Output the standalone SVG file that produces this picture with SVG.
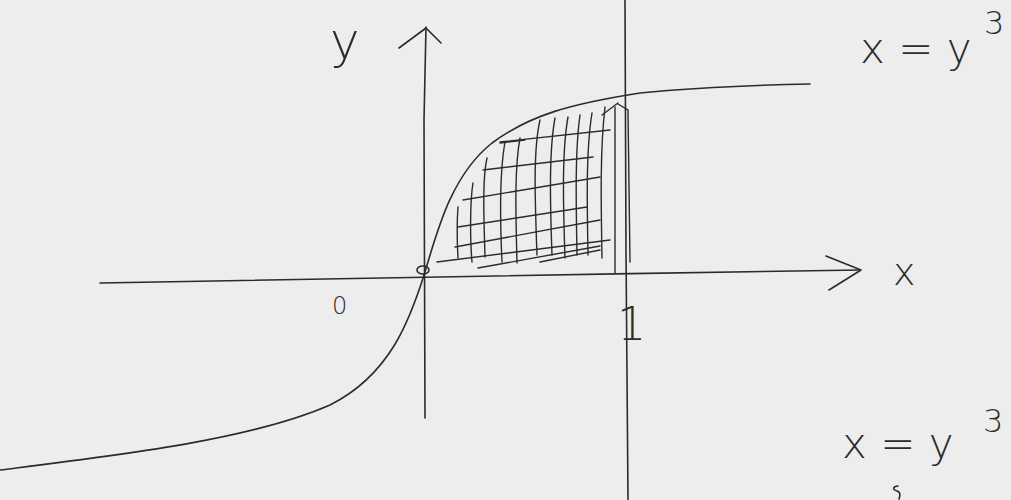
<svg xmlns="http://www.w3.org/2000/svg" width="1011" height="500" viewBox="0 0 1011 500">
<style>
.ln{fill:none;stroke:#2b2b2b;stroke-width:1.6;stroke-linecap:round;stroke-linejoin:round}
.h{fill:none;stroke:#2b2b2b;stroke-width:1.4;stroke-linecap:round}
.t{font-family:"DejaVu Sans",sans-serif;fill:#2b2b2b;font-weight:300}
</style>
<rect width="1011" height="500" fill="#ededed"/>
<g id="axes" class="ln">
<path d="M100,283 C300,279 600,274 860,270"/>
<path d="M826,256 L861,270 L829,290"/>
<path d="M425,418 L424,120 L426,27"/>
<path d="M399,48 L426,28 L441,43"/>
<path d="M625,0 L626,250 L628,500"/>
</g>
<g id="curve" class="ln">
<path d="M0,470 C120,455 250,440 330,405 C390,375 410,320 425,272 C438,228 452,175 492,143 C530,115 570,104 640,93 C700,87 760,85 810,84"/>
<ellipse cx="423" cy="270" rx="6" ry="4"/>
</g>
<g id="hatching" class="h">
<path d="M458,258 C457,240 457,220 458,207"/>
<path d="M472,262 C470,240 470,200 473,183"/>
<path d="M485,257 C484,220 482,180 487,158"/>
<path d="M502,262 C500,220 500,170 505,142"/>
<path d="M517,263 C516,220 514,170 520,138"/>
<path d="M537,255 C535,200 533,150 540,120"/>
<path d="M552,255 C550,200 549,150 555,118"/>
<path d="M565,258 C563,200 562,150 568,117"/>
<path d="M577,255 C576,200 575,150 580,115"/>
<path d="M588,255 C587,200 586,150 592,113"/>
<path d="M602,258 C601,200 600,150 605,107"/>
<path d="M437,262 L610,240"/>
<path d="M455,247 L600,220"/>
<path d="M458,227 L587,207"/>
<path d="M463,200 L600,177"/>
<path d="M483,170 L593,157"/>
<path d="M500,142 L610,130"/>
<path d="M500,143 L525,140"/>
<path d="M478,268 L600,246"/>
<path d="M540,262 L600,250"/>
<path d="M602,115 L618,103"/>
<path d="M615,107 L615,273"/>
<path d="M618,104 L628,110 L630,262"/>
</g>
<g id="labels">
<text class="t" x="330" y="58" font-size="50">y</text>
<text class="t" x="893" y="285" font-size="38">x</text>
<text class="t" x="332" y="314" font-size="24">0</text>
<text class="t" x="617" y="340" font-size="46">1</text>
<text class="t" x="860" y="63" font-size="42">x = y</text>
<text class="t" x="984" y="34" font-size="32">3</text>
<text class="t" x="842" y="458" font-size="42">x = y</text>
<text class="t" x="983" y="432" font-size="32">3</text>
<path class="ln" d="M898,486 C893,486 892,490 897,491 C901,492 900,496 899,499"/>
</g>
</svg>
